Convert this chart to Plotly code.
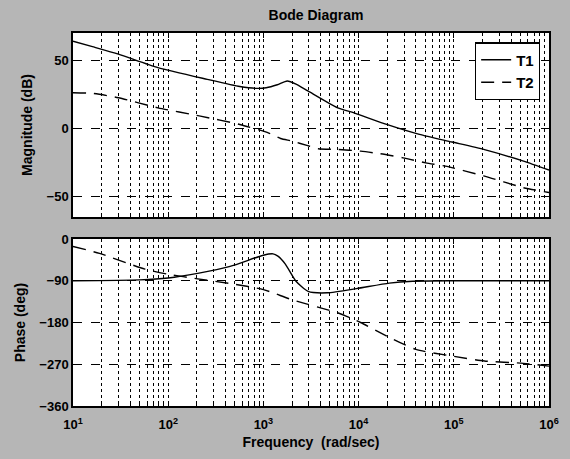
import plotly.graph_objects as go
from plotly.subplots import make_subplots

# ---- data ----
mag_t1_freq = [10, 16, 30, 78, 257, 565, 830, 1070, 1400, 1780, 2200, 2960, 6040, 8970, 19700, 43500, 95800, 210000, 540000, 1000000]
mag_t1_db = [64, 60, 54.5, 44.6, 36, 30.7, 29.4, 29.8, 32, 34.8, 32.5, 27.3, 15.1, 11.4, 2.9, -4.4, -10, -15.6, -24, -30.6]

mag_t2_freq = [10, 16, 30, 78, 218, 565, 1140, 1517, 2000, 2860, 3760, 6040, 10500, 16900, 29300, 50900, 81600, 210000, 540000, 1000000]
mag_t2_db = [26.2, 25.7, 22.5, 15.1, 9, 2.9, -3.4, -7.4, -9.3, -12.5, -14.9, -15.4, -16.7, -18.6, -21.6, -25.3, -27.7, -35, -43.5, -47]

ph_t1_freq = [10, 50, 100, 204, 447, 1000, 1260, 1420, 1700, 2200, 2950, 4700, 9500, 21000, 37000, 100000, 1000000]
ph_t1_deg = [-90, -88, -84, -74, -59, -35, -32, -37, -54, -91, -113, -116, -107, -95, -91, -90, -90]

ph_t2_freq = [10, 19, 57, 100, 204, 447, 1000, 2000, 6000, 10500, 21000, 40000, 100000, 210000, 540000, 1000000]
ph_t2_deg = [-16, -31, -65, -76, -86, -96, -109, -131, -159, -180, -212, -238, -253, -263, -268, -274]

series_names = ["T1", "T2"]
x_tick_vals = [10, 100, 1000, 10000, 100000, 1000000]
x_tick_text = ["10<sup>1</sup>", "10<sup>2</sup>", "10<sup>3</sup>", "10<sup>4</sup>", "10<sup>5</sup>", "10<sup>6</sup>"]
mag_ticks = [-50, 0, 50]
ph_ticks = [-360, -270, -180, -90, 0]

minor_vals = [m * d for d in [10, 100, 1000, 10000, 100000] for m in range(2, 10)]

FONT = "Liberation Sans, Arial, sans-serif"
BG = "#b6b6b6"

fig = make_subplots(rows=2, cols=1, shared_xaxes=True, vertical_spacing=0.06)

line_solid = dict(color="black", width=1.4)
line_dash = dict(color="black", width=1.4, dash="13px,8px")
SM = 0.6

fig.add_trace(go.Scatter(x=mag_t1_freq, y=mag_t1_db, mode="lines", name=series_names[0],
                         line=dict(**line_solid, shape="spline", smoothing=SM)), row=1, col=1)
fig.add_trace(go.Scatter(x=mag_t2_freq, y=mag_t2_db, mode="lines", name=series_names[1],
                         line=dict(**line_dash, shape="spline", smoothing=SM)), row=1, col=1)
fig.add_trace(go.Scatter(x=ph_t1_freq, y=ph_t1_deg, mode="lines", name=series_names[0], showlegend=False,
                         line=dict(**line_solid, shape="spline", smoothing=SM)), row=2, col=1)
fig.add_trace(go.Scatter(x=ph_t2_freq, y=ph_t2_deg, mode="lines", name=series_names[1], showlegend=False,
                         line=dict(**line_dash, shape="spline", smoothing=SM)), row=2, col=1)

xcommon = dict(type="log", range=[1, 6], tickvals=x_tick_vals, showline=True, linecolor="black", linewidth=1.5,
               mirror="ticks", ticks="inside", ticklen=5, tickcolor="black",
               showgrid=True, gridcolor="black", griddash="dot", gridwidth=1,
               minor=dict(tickvals=minor_vals, showgrid=True, gridcolor="black", griddash="dot", gridwidth=1,
                          ticks="inside", ticklen=3, tickcolor="black"),
               zeroline=False)

fig.update_xaxes(**xcommon, showticklabels=False, row=1, col=1)
fig.update_xaxes(**xcommon, ticktext=x_tick_text, showticklabels=True, ticklabelstandoff=6, row=2, col=1,
                 title=dict(text="Frequency  (rad/sec)", font=dict(size=14, family=FONT, color="black", weight="bold"), standoff=6))

ycommon = dict(showline=True, linecolor="black", linewidth=1.5, mirror="ticks", ticks="inside", ticklen=5,
               tickcolor="black", showgrid=True, gridcolor="black", griddash="dash", gridwidth=1, zeroline=False)

fig.update_yaxes(**ycommon, range=[-65, 70], tickvals=mag_ticks, row=1, col=1,
                 title=dict(text="Magnitude (dB)", font=dict(size=14, family=FONT, color="black", weight="bold"), standoff=11))
fig.update_yaxes(**ycommon, range=[-360, 0], tickvals=ph_ticks, row=2, col=1,
                 title=dict(text="Phase (deg)", font=dict(size=14, family=FONT, color="black", weight="bold"), standoff=10))

fig.update_layout(
    width=570, height=459,
    margin=dict(l=73, r=11, t=33, b=53),
    paper_bgcolor=BG, plot_bgcolor="white",
    font=dict(family=FONT, size=13, color="black", weight="bold"),
    title=dict(text="Bode Diagram", x=0.5544, xanchor="center", y=0.967, yanchor="middle",
               font=dict(size=14, family=FONT, color="black", weight="bold")),
    legend=dict(x=0.981, xanchor="right", y=0.975, yanchor="top", bgcolor="white", bordercolor="black",
                borderwidth=1.2, font=dict(size=15, family=FONT, weight="bold"), itemwidth=30,
                tracegroupgap=0),
    showlegend=True,
)

fig.update_layout(yaxis=dict(domain=[0.5067, 1.0]), yaxis2=dict(domain=[0.0, 0.4477]))

fig.write_html("out.html", config={"displayModeBar": False},
               post_script="document.body.style.margin='0';document.body.style.background='%s';" % BG)
